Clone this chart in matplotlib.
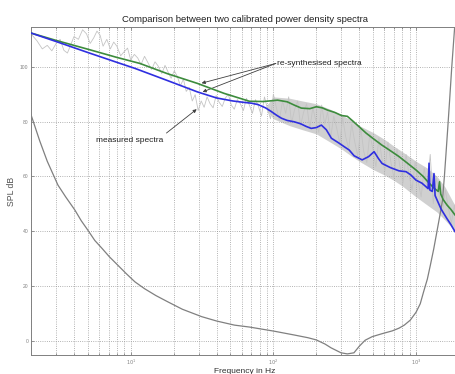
import matplotlib
matplotlib.use('Agg')
import matplotlib.pyplot as plt
from matplotlib.ticker import LogLocator, NullFormatter, FixedLocator, FixedFormatter

plt.rcParams['font.family'] = ['Liberation Sans', 'DejaVu Sans']

title = "Comparison between two calibrated power density spectra"
xlabel = "Frequency in Hz"
ylabel = "SPL dB"

# Re-synthesised spectrum (green)
green_f = [2, 3, 5, 8, 11.6, 18, 29.4, 45, 67.9, 85, 107, 125, 140, 157, 180, 200, 220, 239,
           270, 300, 330, 360, 399, 446, 500, 576, 650, 760, 870, 1000, 1120, 1230, 1350,
           1430, 1460, 1490, 1550, 1650, 1750, 1875, 2000]
green_v = [112.3, 109.6, 106.4, 103.4, 101.2, 97.5, 93.9, 90.3, 87.4, 87.3, 87.8, 87.2, 86.0,
           84.9, 84.7, 85.4, 85.0, 84.2, 83.3, 82.2, 81.9, 80.2, 78.1, 75.8, 73.8, 71.4, 69.6,
           67.2, 64.8, 62.3, 60.0, 57.6, 55.5, 54.5, 58.0, 53.5, 51.5, 49.5, 48.0, 45.9, 44.5]

# Re-synthesised spectrum (blue)
blue_f = [2, 3, 5, 8, 10.7, 18, 29.4, 40, 52, 62, 70, 78, 88, 97, 106, 114, 125, 140, 155, 170,
          184, 200, 217, 235, 255, 285, 314, 340, 368, 419, 465, 508, 545, 578, 660, 760, 851,
          920, 1000, 1100, 1175, 1215, 1233, 1250, 1300, 1336, 1360, 1400, 1500, 1650, 1750,
          1875, 2000]
blue_v = [112.3, 109.2, 105.2, 101.6, 99.4, 95.0, 90.8, 88.6, 87.5, 87.0, 86.7, 86.2, 85.0,
          83.6, 82.2, 81.2, 80.4, 79.9, 79.2, 78.2, 77.5, 77.8, 78.7, 77.0, 73.9, 72.3, 70.8,
          69.6, 67.5, 66.0, 67.2, 69.0, 66.5, 64.7, 63.2, 62.0, 61.7, 60.5, 58.6, 57.5, 56.2,
          55.5, 64.8, 55.0, 54.5, 61.0, 53.0, 51.5, 48.0, 44.5, 42.5, 39.8, 38.5]

# Measured spectrum (light grey, noisy)
meas_f = [2.0, 2.2, 2.4, 2.6, 2.8, 3.0, 3.2, 3.4, 3.6, 3.8, 4.0, 4.3, 4.6, 4.9, 5.2, 5.5, 5.8,
          6.1, 6.4, 6.8, 7.2, 7.6, 8.0, 8.5, 9.0, 9.5, 10.0, 10.6, 11.2, 11.8, 12.5, 13.2, 14.0,
          14.8, 15.6, 16.5, 17.4, 18.3, 19.2, 20.2, 21.2, 22.3, 23.4, 24.5, 25.7, 27.0, 28.3,
          29.7, 31.2, 32.7, 34.3, 36.0, 37.8, 39.7, 41.7, 43.8, 46.0, 48.3, 50.7, 53.2, 55.9,
          58.7, 61.6, 64.7, 67.9, 71.3, 74.9, 78.6, 82.5, 86.6, 91.0, 95.5, 100, 105, 110, 116,
          122, 128, 134, 141, 148, 155, 163, 171, 180, 189, 198, 208, 218, 229, 240, 252, 265,
          278, 292, 306, 321, 337, 354, 372, 390, 410, 430, 452, 474, 498, 523, 549, 576, 605,
          635, 667, 700, 735, 772, 810, 851, 893, 938, 985, 1034, 1086, 1140, 1197, 1257, 1320,
          1386, 1455, 1528, 1604, 1684, 1768, 1857, 1950, 2000]
meas_v = [112.0, 109.5, 106.5, 107.8, 105.8, 108.5, 110.0, 106.0, 105.0, 108.0, 111.0, 110.0,
          113.5, 112.0, 108.5, 110.5, 113.0, 111.5, 107.5, 110.0, 106.5, 109.0, 107.5, 104.0,
          105.5, 106.8, 102.5, 104.5, 103.2, 100.8, 103.8, 101.5, 99.0, 101.8, 100.2, 97.5,
          100.5, 98.0, 95.8, 98.5, 96.5, 93.0, 95.5, 91.0, 92.5, 87.5, 89.8, 84.0, 87.5, 85.2,
          89.0, 86.5, 85.0, 89.5, 87.0, 85.5, 88.5, 90.0, 86.0, 84.5, 88.0, 86.5, 84.0, 88.5,
          86.0, 83.0, 88.0, 85.5, 82.0, 89.0, 84.5, 81.0, 90.0, 85.0, 80.5, 87.5, 83.0, 89.0,
          79.5, 84.5, 87.5, 78.5, 83.5, 86.5, 77.5, 85.0, 80.5, 76.0, 86.0, 79.0, 83.5, 74.0,
          82.0, 77.5, 72.0, 81.5, 74.5, 70.0, 79.0, 72.5, 67.5, 77.5, 69.0, 65.0, 75.5, 70.0,
          63.5, 74.0, 66.5, 62.0, 72.5, 65.0, 59.5, 70.0, 63.5, 57.5, 68.0, 60.5, 55.0, 65.5,
          58.0, 52.5, 63.0, 56.0, 68.0, 50.0, 59.5, 53.0, 46.5, 55.0, 48.5, 43.0, 49.5, 40.0,
          45.0]

# Envelope of the dense part of the measured spectrum
band_f = [90, 100, 130, 160, 200, 250, 300, 350, 400, 500, 600, 700, 800, 1000, 1200, 1400,
          1600, 1800, 2000]
band_lo = [84, 81, 78.5, 77, 75.5, 72.5, 70, 67.5, 65.5, 62.5, 60.5, 58.5, 56.5, 52.5, 49.5,
           47, 44, 41, 38.5]
band_hi = [86, 89, 88.5, 87.5, 86.5, 84.5, 82.5, 80.5, 78.5, 76, 73.5, 71, 69, 65.5, 63, 60,
           56, 51, 47]

# Dark grey reference curve
ref_f = [2.0, 2.3, 2.6, 3.09, 3.5, 4.06, 4.5, 5.0, 5.6, 6.27, 7.1, 8.11, 9.3, 10.7, 12.5, 15,
         18.2, 23, 31.4, 40, 53.4, 68, 101, 140, 175, 200, 230, 254, 298, 330, 367, 400, 440,
         493, 580, 681, 760, 827, 910, 1000, 1070, 1130, 1200, 1260, 1330, 1400, 1460, 1530,
         1580, 1620, 1670, 1720, 1780, 1850, 1900]
ref_v = [82.5, 73.0, 65.5, 56.8, 52.5, 47.7, 43.8, 40.4, 36.6, 33.8, 30.6, 27.6, 24.5, 21.5,
         19.0, 16.5, 14.2, 11.5, 8.8, 7.2, 5.7, 5.0, 3.5, 2.1, 1.1, 0.3, -1.2, -2.6, -4.4, -4.8,
         -4.4, -2.0, 0.2, 1.5, 2.6, 3.6, 4.6, 5.7, 7.5, 10.4, 13.5, 17.9, 22.5, 27.6, 33.5, 39.8,
         45.0, 51.0, 60.0, 68.0, 78.0, 88.0, 100.0, 112.0, 120.0]

yticks = [0, 20, 40, 60, 80, 100]
xticks = [10, 100, 1000]
xticklabels = [r'$10^1$', r'$10^2$', r'$10^3$']

fig = plt.figure(figsize=(4.56, 3.74), dpi=100)
ax = fig.add_axes([31/456, 19/374, 428/456, 328/374])
ax.set_xscale('log')

ax.fill_between(band_f, band_lo, band_hi, color='#d0d0d0', lw=0, zorder=1.5)
ax.plot(meas_f, meas_v, color='#c4c4c4', lw=0.6, zorder=2)
ax.plot(ref_f, ref_v, color='#808080', lw=0.9, zorder=3)
ax.plot(green_f, green_v, color='#3d8c3d', lw=1.2, zorder=4)
ax.plot(blue_f, blue_v, color='#2f2fe0', lw=1.2, zorder=5)

ax.set_xlim(2, 2000)
ax.set_ylim(-5.2, 114.5)

ax.xaxis.set_major_locator(FixedLocator(xticks))
ax.xaxis.set_major_formatter(FixedFormatter(xticklabels))
ax.xaxis.set_minor_locator(LogLocator(base=10, subs=range(2, 10)))
ax.xaxis.set_minor_formatter(NullFormatter())
ax.set_yticks(yticks)

ax.grid(True, which='both', axis='x', ls=':', color='#9a9a9a', lw=0.6)
ax.grid(True, which='major', axis='y', ls=':', color='#9a9a9a', lw=0.6)

ax.tick_params(which='both', direction='in', top=True, right=True, colors='#707070',
               labelsize=3.6, labelcolor='#808080', width=0.5)
ax.tick_params(which='major', length=2.5, pad=2)
ax.tick_params(which='minor', length=1.5)
for s in ax.spines.values():
    s.set_color('#808080')
    s.set_linewidth(0.7)

ax.set_title(title, fontsize=6.8, pad=3.5, color='#202020')
ax.set_xlabel(xlabel, fontsize=6, labelpad=1, color='#303030')
ax.set_ylabel(ylabel, fontsize=6.2, labelpad=3, color='#505050')

arrow = dict(arrowstyle='-|>', color='#404040', lw=0.6, mutation_scale=5, shrinkA=0, shrinkB=0)
ax.text(106, 101, 're-synthesised spectra', fontsize=6, ha='left', va='center', color='#202020')
ax.annotate('', xy=(31.4, 94.0), xytext=(104, 101.2), arrowprops=arrow)
ax.annotate('', xy=(31.9, 90.8), xytext=(104, 101.2), arrowprops=arrow)
ax.text(9.8, 72.9, 'measured spectra', fontsize=6, ha='center', va='center', color='#202020')
ax.annotate('', xy=(29, 84.5), xytext=(17.8, 75.8), arrowprops=arrow)

fig.savefig('out.png', dpi=100)
